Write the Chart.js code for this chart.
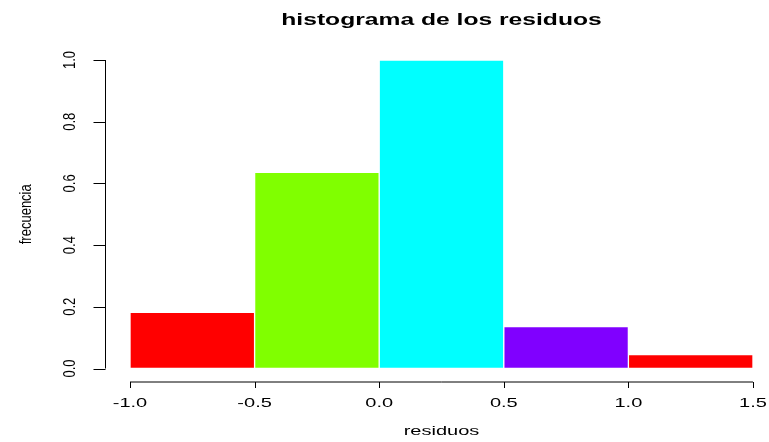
<!DOCTYPE html>
<html>
<head>
<meta charset="utf-8">
<script src="https://cdn.jsdelivr.net/npm/chart.js@4"></script>
<style>
  html, body { margin: 0; padding: 0; background: #fff; }
  #wrap { width: 769px; height: 442px; }
</style>
</head>
<body>
<div id="wrap"><canvas id="histChart"></canvas></div>
<script>
// datos del histograma (densidad por intervalo)
const binEdges = [-1.0, -0.5, 0.0, 0.5, 1.0, 1.5];
const densidad = [0.182, 0.636, 1.0, 0.136, 0.045];
const colores = ['#FF0000', '#80FF00', '#00FFFF', '#8000FF', '#FF0000'];
const xTicks = [-1.0, -0.5, 0.0, 0.5, 1.0, 1.5];
const yTicks = [0.0, 0.2, 0.4, 0.6, 0.8, 1.0];
const titulo = 'histograma de los residuos';
const xTitulo = 'residuos';
const yTitulo = 'frecuencia';

const puntos = densidad.map((d, i) => ({ x: (binEdges[i] + binEdges[i + 1]) / 2, y: d }));

// texto estirado horizontalmente como en la imagen original
function texto(ctx, str, x, y, font, sx, rot) {
    ctx.save();
    ctx.translate(x, y);
    ctx.scale(sx, 1);
    if (rot) ctx.rotate(rot);
    ctx.font = font;
    ctx.fillText(str, 0, 0);
    ctx.restore();
}

// ejes estilo R, separados del area de dibujo
const ejesR = {
    id: 'ejesR',
    afterDraw(chart) {
        const ctx = chart.ctx;
        const xs = chart.scales.x, ys = chart.scales.y;
        const area = chart.chartArea;
        const fam = '"Liberation Sans", Arial, sans-serif';
        const sx = 1.54;
        ctx.save();
        ctx.strokeStyle = '#000';
        ctx.fillStyle = '#000';
        ctx.lineWidth = 1;

        // eje x
        const yEje = area.bottom + 13.5;
        ctx.beginPath();
        ctx.moveTo(xs.getPixelForValue(xTicks[0]), yEje);
        ctx.lineTo(xs.getPixelForValue(xTicks[xTicks.length - 1]), yEje);
        xTicks.forEach(t => {
            const px = Math.round(xs.getPixelForValue(t)) + 0.5;
            ctx.moveTo(px, yEje);
            ctx.lineTo(px, yEje + 6);
        });
        ctx.stroke();
        ctx.textAlign = 'center';
        ctx.textBaseline = 'alphabetic';
        xTicks.forEach(t => {
            texto(ctx, t.toFixed(1), xs.getPixelForValue(t), 407, '13px ' + fam, sx);
        });

        // eje y
        const xEje = area.left - 24.5;
        ctx.beginPath();
        ctx.moveTo(xEje, ys.getPixelForValue(yTicks[0]));
        ctx.lineTo(xEje, ys.getPixelForValue(yTicks[yTicks.length - 1]));
        yTicks.forEach(t => {
            const py = Math.round(ys.getPixelForValue(t)) + 0.5;
            ctx.moveTo(xEje, py);
            ctx.lineTo(xEje - 12, py);
        });
        ctx.stroke();
        yTicks.forEach(t => {
            texto(ctx, t.toFixed(1), 75, ys.getPixelForValue(t), '13px ' + fam, 1.2, -Math.PI / 2);
        });

        // titulos
        const cx = (area.left + area.right) / 2;
        texto(ctx, titulo, cx, 25, 'bold 16px ' + fam, sx);
        texto(ctx, xTitulo, cx, 435, '13px ' + fam, sx);
        texto(ctx, yTitulo, 31, (area.top + area.bottom) / 2, '13px ' + fam, 1.2, -Math.PI / 2);
        ctx.restore();
    }
};

const ctx = document.getElementById('histChart').getContext('2d');
new Chart(ctx, {
    type: 'bar',
    data: {
        datasets: [{
            data: puntos,
            backgroundColor: colores,
            borderColor: '#fff',
            borderWidth: 1,
            borderSkipped: false,
            barPercentage: 1.0,
            categoryPercentage: 1.0
        }]
    },
    options: {
        responsive: true,
        maintainAspectRatio: false,
        animation: false,
        layout: {
            padding: { left: 130, right: 16, top: 60, bottom: 73.5 }
        },
        plugins: {
            legend: { display: false },
            tooltip: { enabled: false }
        },
        scales: {
            x: {
                type: 'linear',
                offset: false,
                min: -1.0,
                max: 1.5,
                display: false
            },
            y: {
                min: 0,
                max: 1.0,
                display: false
            }
        }
    },
    plugins: [ejesR]
});
</script>
</body>
</html>
